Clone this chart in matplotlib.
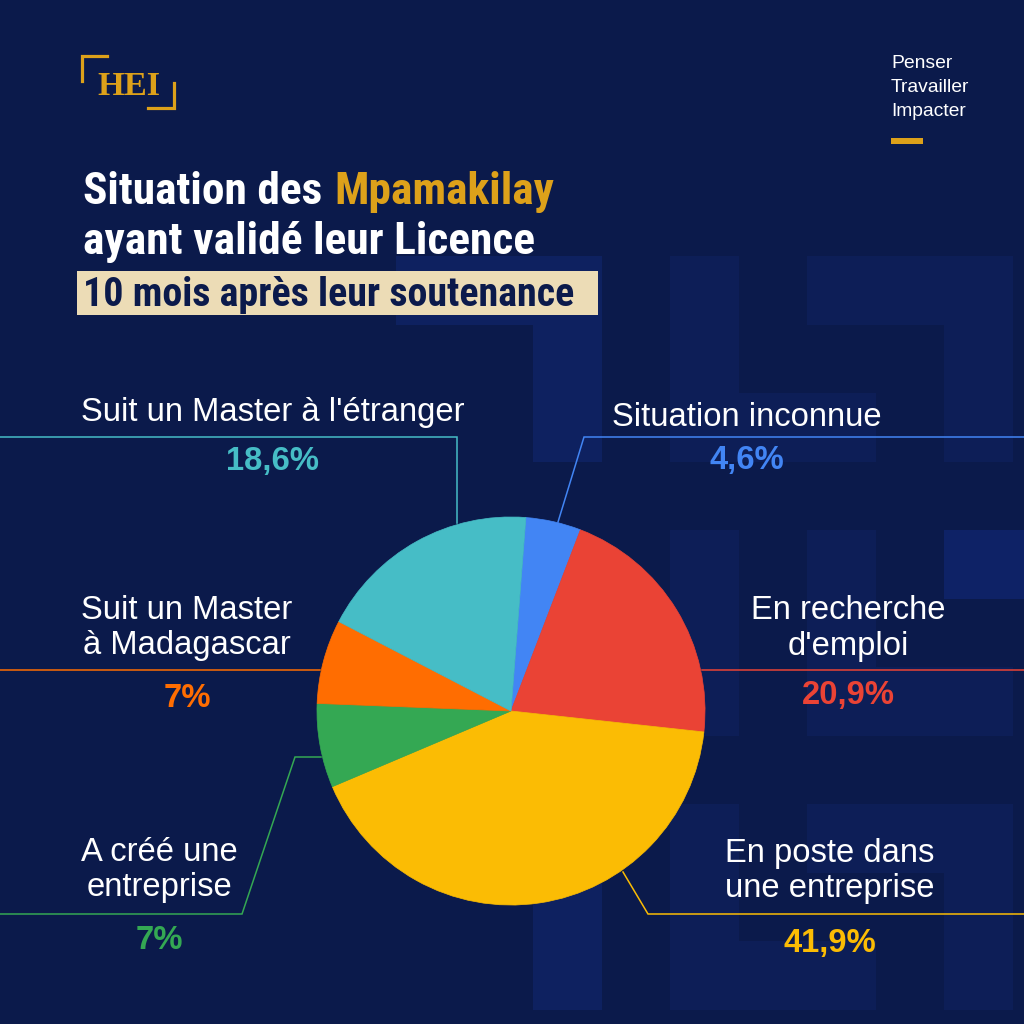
import matplotlib
matplotlib.use('Agg')
import matplotlib.pyplot as plt
from matplotlib.patches import Rectangle
from matplotlib import font_manager as fm

# Données
categories = ["Situation inconnue", "En recherche\nd'emploi", "En poste dans\nune entreprise",
              "A créé une\nentreprise", "Suit un Master\nà Madagascar", "Suit un Master à l'étranger"]
pourcentages = [4.6, 20.9, 41.9, 7.0, 7.0, 18.6]
couleurs = ['#4285F4', '#EA4335', '#FBBC04', '#34A853', '#FF6D01', '#46BDC6']

titre_blanc = "Situation des"
titre_or = "Mpamakilay"
titre_ligne2 = "ayant validé leur Licence"
titre_ligne3 = "10 mois après leur soutenance"
devise = ["Penser", "Travailler", "Impacter"]
logo = "HEI"

# Couleurs de la maquette
FOND = '#0b1a4b'
CLAIR = '#0d1e57'
CLAIR2 = '#0e2160'
CLAIR3 = '#0e2266'
OR = '#DDA11A'
BEIGE = '#ECDCB6'

# Disposition (pixels, y vers le bas) : x centre, lignes de base, base du %, tracé du trait
disposition = [
    (747, [426], 469, [(1024, 437), (584, 437), (558, 522)]),
    (848, [619, 655], 704, [(702, 670), (1024, 670)]),
    (830, [862, 897], 952, [(623, 872), (648, 914), (1024, 914)]),
    (159, [861, 896], 949, [(0, 914), (242, 914), (295, 757), (321, 757)]),
    (187, [619, 654], 707, [(0, 670), (320, 670)]),
    (273, [421], 470, [(0, 437), (457, 437), (457, 523)]),
]


def premiere_police(noms, poids='bold'):
    """ Renvoie la première famille installée de la liste """
    for nom in noms:
        try:
            fm.findfont(fm.FontProperties(family=nom, weight=poids), fallback_to_default=False)
            return nom
        except ValueError:
            pass
    return 'DejaVu Sans'


police_titre = premiere_police(['Liberation Sans Narrow', 'Roboto Condensed', 'Open Sans Condensed',
                                'DejaVu Sans Condensed', 'Liberation Sans'])
police_texte = premiere_police(['Liberation Sans', 'Noto Sans', 'DejaVu Sans'], 'normal')
police_logo = premiere_police(['Liberation Serif', 'DejaVu Serif'], 'bold')

fig = plt.figure(figsize=(10.24, 10.24), dpi=100, facecolor=FOND)
ax = fig.add_axes([0, 0, 1, 1])
ax.set_xlim(0, 1024)
ax.set_ylim(1024, 0)
ax.set_facecolor(FOND)
ax.axis('off')

# Motif de fond : blocs plus clairs sur une grille de 68,5 px
def bloc(c0, c1, r0, r1, couleur):
    x = 396 + c0 * 68.5
    y = 256 + r0 * 68.5
    ax.add_patch(Rectangle((x, y), (c1 - c0 + 1) * 68.5, (r1 - r0 + 1) * 68.5,
                           color=couleur, lw=0, zorder=0))

for c0, c1, r0, r1, coul in [
        (0, 2, 0, 0, CLAIR2), (2, 2, 1, 2, CLAIR2), (4, 4, 0, 2, CLAIR), (5, 6, 2, 2, CLAIR),
        (6, 8, 0, 0, CLAIR), (8, 8, 1, 2, CLAIR),
        (4, 4, 4, 6, CLAIR), (6, 6, 4, 6, CLAIR), (7, 8, 6, 6, CLAIR), (8, 9, 4, 4, CLAIR3),
        (2, 2, 8, 10, CLAIR2), (4, 4, 8, 10, CLAIR), (5, 6, 10, 10, CLAIR), (6, 8, 8, 8, CLAIR),
        (8, 8, 9, 10, CLAIR)]:
    bloc(c0, c1, r0, r1, coul)

rend = fig.canvas.get_renderer()

# Logo HEI
ax.plot([107, 82, 82], [56, 56, 81], color=OR, lw=2.3, solid_joinstyle='miter', zorder=3)
ax.plot([148, 174, 174], [108, 108, 83], color=OR, lw=2.3, solid_joinstyle='miter', zorder=3)
t_logo = ax.text(97, 95, logo, family=police_logo, weight='bold', fontsize=25, color=OR,
                 va='baseline', ha='left', zorder=3)
t_logo.set_fontsize(25 * 63 / t_logo.get_window_extent(rend).width)

# Devise en haut à droite
for i, mot in enumerate(devise):
    ax.text(891, 68 + i * 24, mot, family=police_texte, fontsize=13.9, color='white',
            va='baseline', ha='left', zorder=3)
ax.add_patch(Rectangle((891, 137.5), 32, 6.5, color=OR, lw=0, zorder=3))

# Titre
t1 = ax.text(83, 204, titre_blanc, family=police_titre, weight='bold', fontsize=30,
             color='white', va='baseline', ha='left', zorder=3)
t2 = ax.text(340, 204, titre_or, family=police_titre, weight='bold', fontsize=30,
             color=OR, va='baseline', ha='left', zorder=3)
w1 = t1.get_window_extent(rend).width
w2 = t2.get_window_extent(rend).width
ecart = 12
echelle = (471 - ecart) / (w1 + w2)
t1.set_fontsize(30 * echelle)
t2.set_fontsize(30 * echelle)
t2.set_x(83 + w1 * echelle + ecart)

t3 = ax.text(83, 254, titre_ligne2, family=police_titre, weight='bold', fontsize=30,
             color='white', va='baseline', ha='left', zorder=3)
t3.set_fontsize(30 * 452 / t3.get_window_extent(rend).width)

ax.add_patch(Rectangle((77, 271), 521, 44, color=BEIGE, lw=0, zorder=2))
t4 = ax.text(83, 306, titre_ligne3, family=police_titre, weight='bold', fontsize=30,
             color=FOND, va='baseline', ha='left', zorder=3)
t4.set_fontsize(30 * 493 / t4.get_window_extent(rend).width)

# Étiquettes, pourcentages et traits de rappel
for cat, val, coul, (xc, bases, base_pct, trace) in zip(categories, pourcentages, couleurs, disposition):
    xs, ys = zip(*trace)
    ax.plot(xs, ys, color=coul, lw=1.1, zorder=2, solid_joinstyle='miter')
    for ligne, yb in zip(cat.split('\n'), bases):
        ax.text(xc, yb, ligne, family=police_texte, fontsize=23.6, color='white',
                ha='center', va='baseline', zorder=3)
    texte_pct = f"{val:g}".replace('.', ',') + '%'
    ax.text(xc, base_pct, texte_pct, family=police_texte, weight='bold', fontsize=23.6,
            color=coul, ha='center', va='baseline', zorder=3)

# Camembert
ax_pie = fig.add_axes([316 / 1024, 118 / 1024, 390 / 1024, 390 / 1024])
parts, _ = ax_pie.pie(pourcentages, colors=couleurs, startangle=85.6, counterclock=False)
# Bord de la couleur de la part pour masquer les joints
for part in parts:
    part.set_edgecolor(part.get_facecolor())
    part.set_linewidth(0.5)
ax_pie.set_xlim(-1.005, 1.005)
ax_pie.set_ylim(-1.005, 1.005)
ax_pie.set_aspect('equal')
ax_pie.axis('off')

fig.savefig('out.png', dpi=100, facecolor=FOND)
